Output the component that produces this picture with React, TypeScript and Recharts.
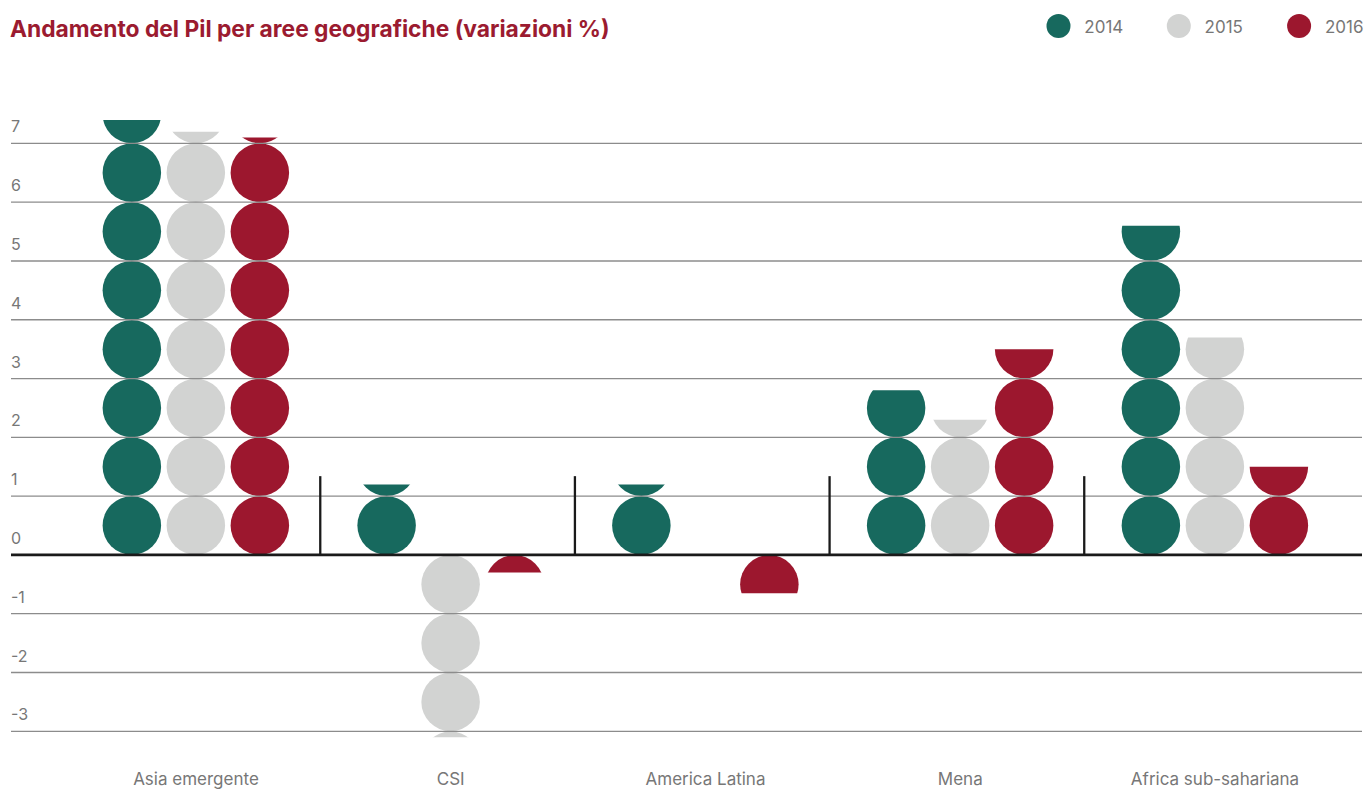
import { BarChart, Bar, XAxis, YAxis, ReferenceLine } from "recharts";

const CATEGORIES = ["Asia emergente", "CSI", "America Latina", "Mena", "Africa sub-sahariana"];
const GDP_2014 = [7.4, 1.2, 1.2, 2.8, 5.6];
const GDP_2015 = [7.2, -3.1, 0, 2.3, 3.7];
const GDP_2016 = [7.1, -0.3, -0.65, 3.5, 1.5];
const Y_TICKS = [-3, -2, -1, 0, 1, 2, 3, 4, 5, 6, 7];
const SEPARATORS = [1, 2, 3, 4];

const SERIES = [
  { key: "y2014", label: "2014", color: "#17695e" },
  { key: "y2015", label: "2015", color: "#d2d3d2" },
  { key: "y2016", label: "2016", color: "#9c172e" },
];

const data = CATEGORIES.map((name, i) => ({
  name,
  pos: i + 0.5,
  y2014: GDP_2014[i],
  y2015: GDP_2015[i],
  y2016: GDP_2016[i],
}));

const FONT = "Inter, 'Open Sans', sans-serif";
const PAD = { left: 57.6, right: 19.6 };
const SEP_PAD = { left: 54.6, right: 23.1 };

// bar drawn as a column of circles, one per percentage point, cut at the value
function DotStack(props: any) {
  const { x, y, width, height, fill, v, sid, index } = props;
  if (!v || !height) return null;
  const h = Math.abs(height);
  const top = Math.min(y, y + height);
  const unit = h / Math.abs(v);
  const zeroY = v > 0 ? top + h : top;
  const dir = v > 0 ? -1 : 1;
  const n = Math.ceil(Math.abs(v) - 1e-6);
  const r = width / 2;
  const id = `clip-${sid}-${index}`;
  return (
    <g>
      <defs>
        <clipPath id={id}>
          <rect x={x - 1} y={top} width={width + 2} height={h} />
        </clipPath>
      </defs>
      <g clipPath={`url(#${id})`}>
        {Array.from({ length: n }, (_, i) => (
          <circle key={i} cx={x + r} cy={zeroY + dir * (i + 0.5) * unit} r={r} fill={fill} />
        ))}
      </g>
    </g>
  );
}

function CatTick({ x, payload }: any) {
  return (
    <text x={x} y={785} textAnchor="middle" fontSize={17} fill="#777" fontFamily={FONT}>
      {payload.value}
    </text>
  );
}

function tickLabel(value: number) {
  return (props: any) => (
    <text
      x={props.viewBox.x}
      y={props.viewBox.y - 11}
      textAnchor="start"
      fontSize={16}
      fill="#777"
      fontFamily={FONT}
    >
      {value}
    </text>
  );
}

export default function App() {
  return (
    <div style={{ position: "relative", width: 1365, height: 790, fontFamily: FONT }}>
      <style>{"body{margin:0}"}</style>
      <BarChart
        width={1365}
        height={790}
        data={data}
        margin={{ top: 114, right: 3, bottom: 0, left: 11 }}
        barSize={58.5}
        barGap={5.5}
      >
        <XAxis
          dataKey="name"
          padding={PAD}
          axisLine={false}
          tickLine={false}
          height={44}
          interval={0}
          tick={<CatTick />}
        />
        <XAxis xAxisId="sep" type="number" dataKey="pos" domain={[0, 5]} padding={SEP_PAD} hide />
        <YAxis type="number" domain={[-3.25, 7.5]} ticks={Y_TICKS} hide />
        {Y_TICKS.filter((t) => t !== 0).map((t) => (
          <ReferenceLine key={t} y={t} stroke="#8c8c8c" strokeWidth={1.3} label={tickLabel(t)} />
        ))}
        {SERIES.map((s) => (
          <Bar
            key={s.key}
            dataKey={s.key}
            fill={s.color}
            isAnimationActive={false}
            shape={(p: any) => <DotStack {...p} v={p.payload[s.key]} sid={s.key} fill={s.color} />}
          />
        ))}
        <ReferenceLine y={0} stroke="#1a1a1a" strokeWidth={2.7} label={tickLabel(0)} />
        {SEPARATORS.map((s) => (
          <ReferenceLine
            key={s}
            xAxisId="sep"
            segment={[
              { x: s, y: 0 },
              { x: s, y: 1.34 },
            ]}
            stroke="#1a1a1a"
            strokeWidth={2.3}
          />
        ))}
      </BarChart>
      <svg
        width={1365}
        height={60}
        style={{ position: "absolute", left: 0, top: 0, pointerEvents: "none" }}
      >
        <text x={10} y={37} fontSize={22.8} fontWeight={700} fill="#9b1b30" fontFamily={FONT}>
          Andamento del Pil per aree geografiche (variazioni %)
        </text>
        {SERIES.map((s, i) => (
          <g key={s.key}>
            <circle cx={1058.5 + i * 120.3} cy={26} r={12} fill={s.color} />
            <text x={1084.3 + i * 120.3} y={32.5} fontSize={17} fill="#777" fontFamily={FONT}>
              {s.label}
            </text>
          </g>
        ))}
      </svg>
    </div>
  );
}
